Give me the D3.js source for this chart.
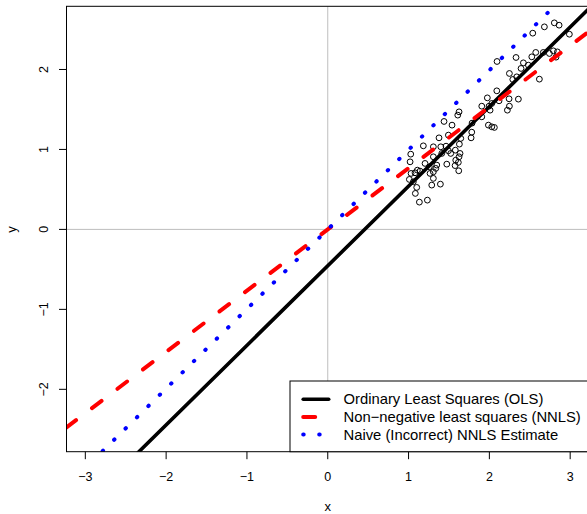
<!DOCTYPE html>
<html>
<head>
<meta charset="utf-8">
<script src="https://cdn.jsdelivr.net/npm/d3@7"></script>
<style>
  html, body { margin: 0; padding: 0; background: #ffffff; }
  svg { display: block; }
  text { font-family: "Liberation Sans", Arial, Helvetica, sans-serif; fill: #000; }
</style>
</head>
<body>
<svg id="chart" width="587" height="514"></svg>
<script>
// ---------------- data ----------------
const pointX = [2.804,2.863,2.681,2.537,2.990,2.330,2.095,2.574,2.668,2.743,2.792,2.421,2.483,2.525,2.392,2.339,2.248,2.290,2.619,2.092,
  1.975,2.244,2.359,2.120,2.030,1.996,2.248,2.223,2.009,1.906,1.625,1.609,1.439,1.538,1.988,2.030,2.062,1.782,1.493,1.377,
  1.774,1.646,1.183,1.307,1.399,1.464,1.629,1.579,1.522,1.637,1.027,1.625,1.019,1.204,1.584,1.616,1.473,1.349,1.257,1.109,
  1.080,1.031,1.142,1.337,1.307,1.266,1.621,1.059,1.307,1.287,1.394,1.101,1.084,1.134,1.233,2.842,2.825,1.906,1.786,1.307,
  1.411,1.493,1.576,1.010];
const pointY = [2.583,2.554,2.533,2.454,2.441,2.150,2.100,2.213,2.213,2.200,2.233,2.083,2.054,2.158,2.013,1.908,1.950,1.875,1.879,1.733,
  1.645,1.633,1.629,1.608,1.575,1.541,1.541,1.491,1.491,1.408,1.470,1.429,1.350,1.304,1.304,1.283,1.275,1.216,1.179,1.145,
  1.145,1.138,1.045,1.033,1.033,1.041,1.066,0.991,0.950,0.950,0.941,0.908,0.845,0.825,0.866,0.838,0.816,0.804,0.783,0.741,
  0.708,0.700,0.729,0.763,0.720,0.700,0.733,0.595,0.638,0.554,0.566,0.525,0.450,0.341,0.366,2.220,2.154,1.541,1.329,0.908,
  0.950,0.983,0.798,0.625];

const fitNames = ["Ordinary Least Squares (OLS)", "Non\u2212negative least squares (NNLS)", "Naive (Incorrect) NNLS Estimate"];
const fitIntercepts = [-0.455, 0, 0];
const fitSlopes = [0.995, 0.766, 0.995];
const fitColors = ["#000000", "#ff0000", "#0000ff"];

const xTicks = [-3, -2, -1, 0, 1, 2, 3];
const xTickLabels = ["\u22123", "\u22122", "\u22121", "0", "1", "2", "3"];
const yTicks = [-2, -1, 0, 1, 2];
const yTickLabels = ["\u22122", "\u22121", "0", "1", "2"];
const xDomain = [-3.233, 3.233];
const yDomain = [-2.78, 2.79];

// ---------------- layout ----------------
const L = 66.5, R = 589, T = 6.3, B = 451.7;
const svg = d3.select("#chart");
const x = d3.scaleLinear().domain(xDomain).range([L, R]);
const y = d3.scaleLinear().domain(yDomain).range([B, T]);

svg.append("defs").append("clipPath").attr("id", "plotclip")
  .append("rect").attr("x", L).attr("y", T).attr("width", R - L).attr("height", B - T);

const plot = svg.append("g").attr("clip-path", "url(#plotclip)");

// points
plot.append("g").selectAll("circle")
  .data(pointX.map((v, i) => [v, pointY[i]]))
  .join("circle")
  .attr("cx", d => x(d[0])).attr("cy", d => y(d[1]))
  .attr("r", 2.9)
  .attr("fill", "none").attr("stroke", "#000").attr("stroke-width", 1);

// grey reference lines
plot.append("line").attr("x1", L).attr("x2", R).attr("y1", y(0)).attr("y2", y(0))
  .attr("stroke", "#bebebe").attr("stroke-width", 1);
plot.append("line").attr("x1", x(0)).attr("x2", x(0)).attr("y1", T).attr("y2", B)
  .attr("stroke", "#bebebe").attr("stroke-width", 1);

// fitted lines
const lineGen = d3.line().x(d => x(d[0])).y(d => y(d[1]));
const dashes = [null, "12 20", "0.5 15.5"];
const offsets = [0, 0, 13.2];
const widths = [3.6, 4, 4];
fitNames.forEach((n, i) => {
  const pts = xDomain.map(v => [v, fitIntercepts[i] + fitSlopes[i] * v]);
  plot.append("path").attr("d", lineGen(pts))
    .attr("fill", "none").attr("stroke", fitColors[i])
    .attr("stroke-width", widths[i])
    .attr("stroke-linecap", "round")
    .attr("stroke-dasharray", dashes[i])
    .attr("stroke-dashoffset", offsets[i]);
});

// box
svg.append("rect").attr("x", L).attr("y", T).attr("width", R - L).attr("height", B - T)
  .attr("fill", "none").attr("stroke", "#000").attr("stroke-width", 1);

// x axis
const xAxis = svg.append("g");
xAxis.selectAll("line").data(xTicks).join("line")
  .attr("x1", d => x(d)).attr("x2", d => x(d)).attr("y1", B).attr("y2", B + 7.5)
  .attr("stroke", "#000").attr("stroke-width", 1);
xAxis.selectAll("text").data(xTicks).join("text")
  .attr("x", d => x(d)).attr("y", 480.5)
  .attr("text-anchor", "middle").attr("font-size", 12.5)
  .text((d, i) => xTickLabels[i]);

// y axis
const yAxis = svg.append("g");
yAxis.selectAll("line").data(yTicks).join("line")
  .attr("x1", L).attr("x2", L - 7.5).attr("y1", d => y(d)).attr("y2", d => y(d))
  .attr("stroke", "#000").attr("stroke-width", 1);
yAxis.selectAll("text").data(yTicks).join("text")
  .attr("transform", d => `translate(47.5,${y(d)}) rotate(-90)`)
  .attr("text-anchor", "middle").attr("font-size", 12.5)
  .text((d, i) => yTickLabels[i]);

// axis titles
svg.append("text").attr("x", x(0)).attr("y", 510.5).attr("text-anchor", "middle")
  .attr("font-size", 13).text("x");
svg.append("text").attr("transform", `translate(16,${y(0)}) rotate(-90)`)
  .attr("text-anchor", "middle").attr("font-size", 13).text("y");

// legend
const lg = svg.append("g");
lg.append("rect").attr("x", 290).attr("y", 381).attr("width", 320).attr("height", B - 381)
  .attr("fill", "#fff").attr("stroke", "#000").attr("stroke-width", 1);
const rowY = [399.3, 417.1, 434.5];
fitNames.forEach((n, i) => {
  lg.append("line").attr("x1", 303.2).attr("x2", 328.7).attr("y1", rowY[i]).attr("y2", rowY[i])
    .attr("stroke", fitColors[i]).attr("stroke-width", widths[i])
    .attr("stroke-linecap", "round")
    .attr("stroke-dasharray", dashes[i]);
  lg.append("text").attr("x", 343.5).attr("y", rowY[i] + 5).attr("font-size", 14.8).text(n);
});
</script>
</body>
</html>
